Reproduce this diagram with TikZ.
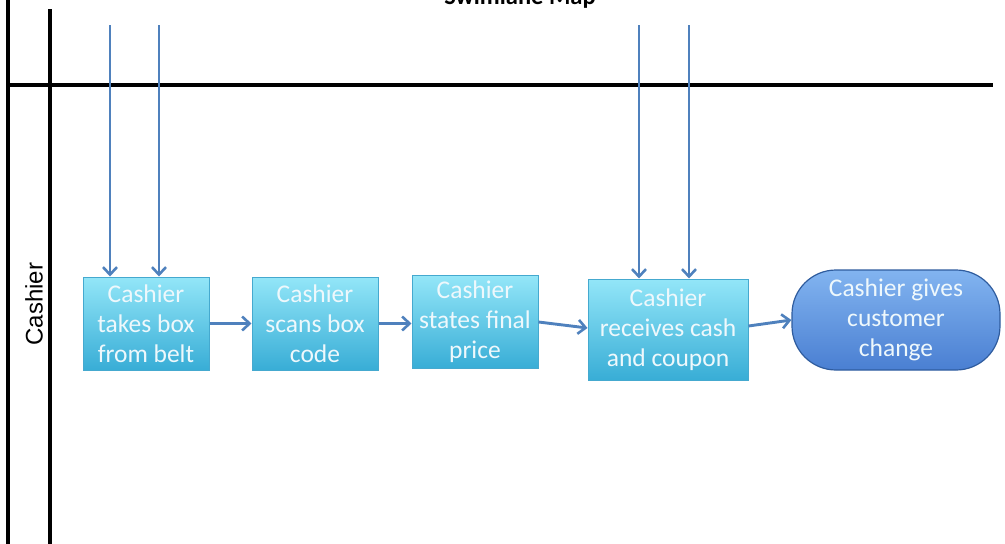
\documentclass[tikz,border=0pt]{standalone}
\usepackage{fontspec}
\setmainfont{Carlito}
\newfontfamily\arialf{Liberation Sans}
\usetikzlibrary{arrows.meta}
\definecolor{flowblue}{HTML}{4F81BD}
\definecolor{boxtop}{HTML}{93E6F8}
\definecolor{boxbot}{HTML}{38ADD6}
\definecolor{boxedge}{HTML}{45A9CF}
\definecolor{endtop}{HTML}{82B4F0}
\definecolor{endbot}{HTML}{4A7FD2}
\definecolor{endedge}{HTML}{2F5C9E}
\definecolor{boxtext}{HTML}{EEF8FC}
\tikzset{
  lane/.style={black, line width=3.1pt},
  flow/.style={flowblue, line width=2.9pt, -{Straight Barb[length=7.5pt,width=14pt,line width=2.6pt]}},
  procbox/.style={draw=boxedge, line width=1pt, top color=boxtop, bottom color=boxbot, text=boxtext, align=center, font=\fontsize{25.5}{30}\selectfont, inner sep=0pt},
  endbox/.style={draw=endedge, line width=1.2pt, top color=endtop, bottom color=endbot, text=boxtext, align=center, font=\fontsize{25.5}{30}\selectfont, rounded corners=44pt, inner sep=0pt},
}
\begin{document}
\begin{tikzpicture}[x=1pt,y=-1pt]
\useasboundingbox (0,0) rectangle (1005,544);
% lanes
\coordinate (l1t) at (8,0);
\coordinate (l1b) at (8,544);
\coordinate (l2t) at (50,9);
\coordinate (l2b) at (50,544);
\coordinate (hl) at (8,85);
\coordinate (hr) at (993,85);
\draw[lane] (l1t) -- (l1b);
\draw[lane] (l2t) -- (l2b);
\draw[lane] (hl) -- (hr);
\node[font=\fontsize{24.5}{28}\selectfont\bfseries, anchor=base] (title) at (520,4) {Swimlane Map};
\node[font=\arialf\fontsize{24}{28}\selectfont, rotate=90] (lanelabel) at (34,304) {Cashier};
% boxes
\node[procbox, minimum width=126pt, minimum height=93pt] (b1) at (146,323.5) {Cashier\\takes box\\from belt};
\node[procbox, minimum width=126pt, minimum height=93pt] (b2) at (315,323.5) {Cashier\\scans box\\code};
\node[procbox, minimum width=126pt, minimum height=93pt] (b3) at (475,322) {Cashier\\states final\\price};
\node[procbox, minimum width=160pt, minimum height=101pt] (b4) at (668,329.5) {Cashier\\receives cash\\and coupon};
\node[endbox, minimum width=208pt, minimum height=100pt] (b5) at (896,320) {Cashier gives\\customer\\change};
% incoming arrows
\coordinate (i1) at (110,25);
\coordinate (i2) at (159,25);
\coordinate (i3) at (639,25);
\coordinate (i4) at (689,25);
\draw[flow] (i1) -- (b1.north -| i1);
\draw[flow] (i2) -- (b1.north -| i2);
\draw[flow] (i3) -- (b4.north -| i3);
\draw[flow] (i4) -- (b4.north -| i4);
% flow arrows
\draw[flow] (b1.east) -- (b2.west);
\draw[flow] (b2.east) -- (b3.west |- b2.west);
\draw[flow] (b3.east |- 0,322) -- (b4.west |- 0,328);
\draw[flow] (b4.east |- 0,326) -- (b5.west);
\end{tikzpicture}
\end{document}
